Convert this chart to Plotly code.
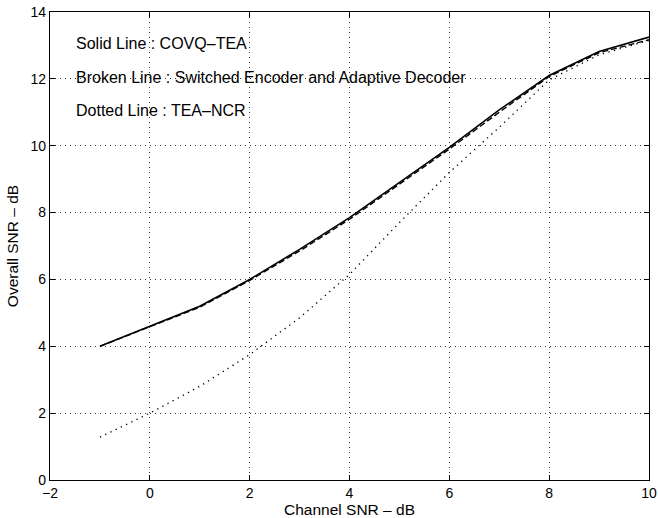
import plotly.graph_objects as go

channel_snr = [-1, 0, 1, 2, 3, 4, 5, 6, 7, 8, 9, 10]
covq_tea = [4.0, 4.6, 5.2, 6.0, 6.9, 7.85, 8.9, 9.95, 11.07, 12.1, 12.82, 13.25]
switched_adaptive = [4.0, 4.58, 5.17, 5.97, 6.85, 7.8, 8.85, 9.9, 11.0, 12.07, 12.78, 13.17]
tea_ncr = [1.28, 2.0, 2.8, 3.75, 4.85, 6.15, 7.7, 9.2, 10.55, 11.97, 12.72, 13.15]

x_ticks = [-2, 0, 2, 4, 6, 8, 10]
y_ticks = [0, 2, 4, 6, 8, 10, 12, 14]

legend_lines = [
    "Solid Line : COVQ\u2013TEA",
    "Broken Line : Switched Encoder and Adaptive Decoder",
    "Dotted Line : TEA\u2013NCR",
]
legend_y = [13.05, 12.05, 11.05]

FONT = "Liberation Sans, Arial, Helvetica"

fig = go.Figure()
fig.add_trace(go.Scatter(x=channel_snr, y=covq_tea, mode="lines",
                         line=dict(color="black", width=1.6, dash="solid")))
fig.add_trace(go.Scatter(x=channel_snr, y=switched_adaptive, mode="lines",
                         line=dict(color="black", width=1.4, dash="6px,3px")))
fig.add_trace(go.Scatter(x=channel_snr, y=tea_ncr, mode="lines",
                         line=dict(color="black", width=1.3, dash="1.3px,4.5px")))

for t, yv in zip(legend_lines, legend_y):
    fig.add_annotation(x=-1.52, y=yv, text=t, showarrow=False, xanchor="left",
                       yanchor="middle", font=dict(family=FONT, size=16, color="black"))

axis_common = dict(
    showline=True, linecolor="black", linewidth=1.3, mirror="ticks",
    ticks="inside", ticklen=5, tickcolor="black",
    showgrid=True, gridcolor="#333", griddash="1px,4px", gridwidth=1,
    zeroline=False, automargin=False,
    tickfont=dict(family=FONT, size=14, color="black"),
)

fig.update_xaxes(range=[-2, 10], tickvals=x_ticks,
                 title=dict(text="Channel SNR \u2013 dB", standoff=0,
                            font=dict(family=FONT, size=15.5, color="black")),
                 **axis_common)
fig.update_yaxes(range=[0, 14], tickvals=y_ticks,
                 title=dict(text="Overall SNR \u2013 dB", standoff=8,
                            font=dict(family=FONT, size=15.5, color="black")),
                 **axis_common)

fig.update_layout(
    width=658, height=518,
    margin=dict(l=50, r=9, t=12, b=38),
    paper_bgcolor="white", plot_bgcolor="white",
    showlegend=False,
)

fig.write_html("out.html", config={"displayModeBar": False},
               post_script="document.body.style.margin='0px';")
